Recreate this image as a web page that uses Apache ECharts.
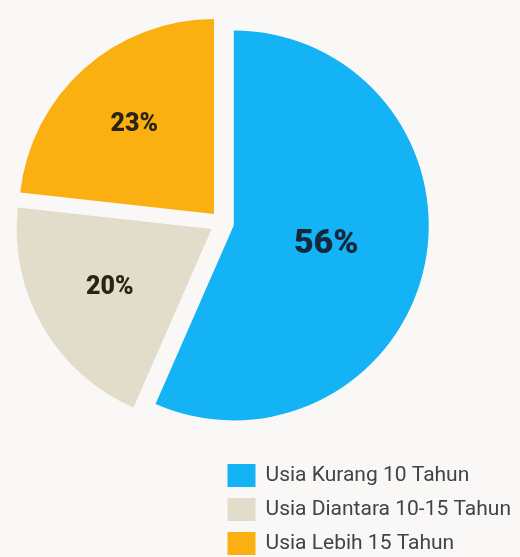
<!DOCTYPE html>
<html>
<head>
<meta charset="utf-8">
<script src="https://cdn.jsdelivr.net/npm/echarts@6/dist/echarts.min.js"></script>
<style>
  html, body { margin: 0; padding: 0; background: #faf8f6; }
  #chart { width: 520px; height: 557px; }
</style>
</head>
<body>
<div id="chart"></div>
<script>
// data
var categories = ['Usia Kurang 10 Tahun', 'Usia Diantara 10-15 Tahun', 'Usia Lebih 15 Tahun'];
var values = [56, 20, 23];
var colors = ['#13b3f6', '#e2dccb', '#fbb011'];

var pieCenter = [222, 223];
// how far labels sit along the radius, relative to the default inner spot
var labelPush = [0.94, 1.17, 1.19];

var myChart = echarts.init(document.getElementById('chart'));

var pieData = categories.map(function (name, i) {
    return {
        name: name,
        value: values[i],
        selected: true,
        itemStyle: {color: colors[i]},
        label: i === 0
            ? {fontSize: 34, color: '#14283b'}
            : {fontSize: 25, color: '#2b2416'}
    };
});

myChart.setOption({
    backgroundColor: '#faf8f6',
    animation: false,
    legend: {
        orient: 'vertical',
        right: 9,
        bottom: 2,
        padding: 0,
        itemWidth: 28,
        itemHeight: 23,
        itemGap: 11,
        icon: 'rect',
        selectedMode: false,
        textStyle: {
            fontFamily: 'Roboto',
            fontSize: 21,
            color: '#434343',
            padding: [0, 0, 0, 5]
        },
        data: categories
    },
    series: [{
        type: 'pie',
        center: pieCenter,
        radius: 195,
        startAngle: 90,
        selectedMode: 'multiple',
        selectedOffset: 12,
        emphasis: {disabled: true},
        label: {
            show: true,
            position: 'inner',
            fontFamily: 'Roboto',
            fontWeight: 900,
            formatter: '{c}%'
        },
        labelLine: {show: false},
        labelLayout: function (params) {
            var r = params.labelRect;
            var cx = r.x + r.width / 2;
            var cy = r.y + r.height / 2;
            var f = labelPush[params.dataIndex] - 1;
            return {
                dx: (cx - pieCenter[0]) * f,
                dy: (cy - pieCenter[1]) * f
            };
        },
        data: pieData
    }]
});
</script>
</body>
</html>
